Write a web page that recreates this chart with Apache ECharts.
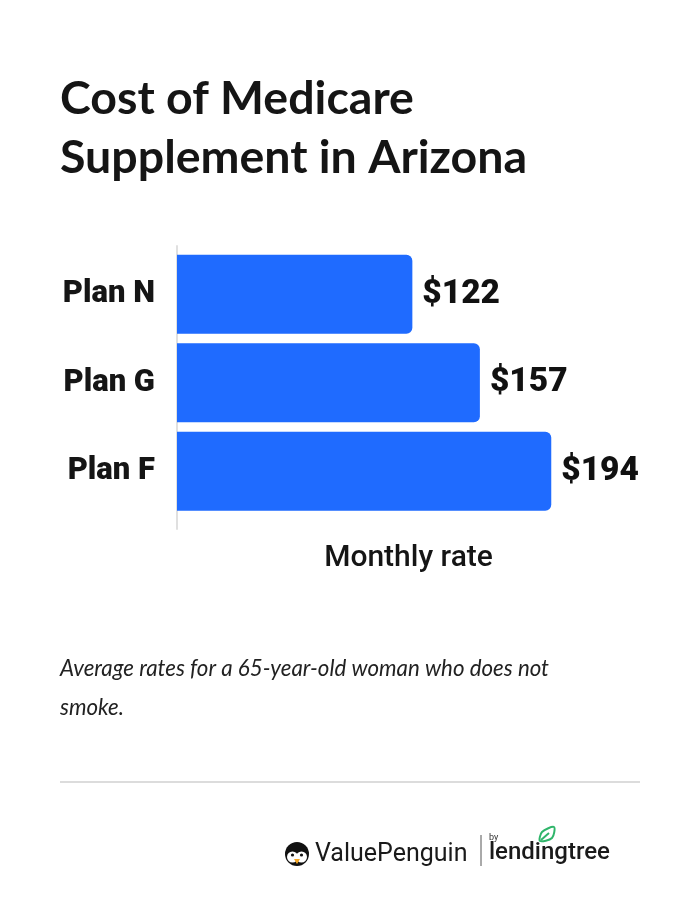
<!DOCTYPE html>
<html>
<head>
<meta charset="utf-8">
<script src="https://cdn.jsdelivr.net/npm/echarts@6/dist/echarts.min.js"></script>
<style>
html,body{margin:0;padding:0;background:#fff;}
#c{width:700px;height:916px;}
</style>
</head>
<body>
<div id="c"></div>
<script>
const categories = ['Plan N', 'Plan G', 'Plan F'];
const monthlyRates = [122, 157, 194];
const titleText = 'Cost of Medicare\nSupplement in Arizona';
const noteText = 'Average rates for a 65-year-old woman who does not\nsmoke.';
const axisName = 'Monthly rate';

const chart = echarts.init(document.getElementById('c'), null, {renderer: 'canvas'});
const option = {
  backgroundColor: '#ffffff',
  animation: false,
  title: [
    {
      text: titleText, left: 55, top: 64,
      textStyle: {fontFamily: 'Lato', fontWeight: 'bold', fontSize: 46.5, color: '#151515', lineHeight: 59}
    },
    {
      text: noteText, left: 55, top: 644,
      textStyle: {fontFamily: 'Lato', fontStyle: 'italic', fontWeight: 'normal', fontSize: 22.3, color: '#222', lineHeight: 39}
    }
  ],
  grid: [
    {left: 177, right: 60, top: 250, height: 265.5, containLabel: false},
    {left: 177, right: 60, top: 246, height: 283, containLabel: false}
  ],
  xAxis: [
    {
      type: 'value', gridIndex: 0, min: 0, max: 240,
      axisLine: {show: false}, axisTick: {show: false}, axisLabel: {show: false}, splitLine: {show: false},
      name: axisName, nameLocation: 'middle', nameGap: 28,
      nameTextStyle: {fontFamily: 'Roboto', fontWeight: 500, fontSize: 30, color: '#151515'}
    },
    {
      type: 'value', gridIndex: 1, min: 0, max: 1, show: false
    }
  ],
  yAxis: [
    {
      type: 'category', gridIndex: 0, data: categories, inverse: true,
      axisLine: {show: false}, axisTick: {show: false}, splitLine: {show: false},
      axisLabel: {margin: 22, fontFamily: 'Roboto', fontWeight: 900, fontSize: 31, color: '#151515'}
    },
    {
      type: 'value', gridIndex: 1, min: 0, max: 1,
      axisLine: {show: true, onZero: false, lineStyle: {color: '#e0e0e0', width: 2}},
      axisTick: {show: false}, axisLabel: {show: false}, splitLine: {show: false}
    }
  ],
  series: [
    {
      type: 'bar', xAxisIndex: 0, yAxisIndex: 0, data: monthlyRates,
      barWidth: 79,
      itemStyle: {color: '#1f6bff', borderRadius: [0, 6, 6, 0]},
      label: {
        show: true, position: 'right', distance: 10,
        formatter: p => '$' + p.value,
        fontFamily: 'Roboto', fontWeight: 900, fontSize: 33.5, color: '#111'
      }
    }
  ],
  graphic: [
    {type: 'line', shape: {x1: 60, y1: 782, x2: 640, y2: 782}, style: {stroke: '#dcdcdc', lineWidth: 2}},
    {type: 'circle', shape: {cx: 297, cy: 854, r: 12}, style: {fill: '#111'}},
    {type: 'circle', shape: {cx: 292.5, cy: 857, r: 5.5}, style: {fill: '#fff'}},
    {type: 'circle', shape: {cx: 301.5, cy: 857, r: 5.5}, style: {fill: '#fff'}},
    {type: 'circle', shape: {cx: 292.5, cy: 855, r: 1.6}, style: {fill: '#111'}},
    {type: 'circle', shape: {cx: 301.5, cy: 855, r: 1.6}, style: {fill: '#111'}},
    {type: 'polygon', shape: {points: [[294, 859], [300, 859], [297, 864]]}, style: {fill: '#f5a623'}},
    {type: 'text', x: 315, y: 855, style: {text: 'ValuePenguin', fontFamily: 'Roboto', fontWeight: 'normal', fontSize: 25, fill: '#1a1a1a', textVerticalAlign: 'middle'}},
    {type: 'line', shape: {x1: 481, y1: 835, x2: 481, y2: 866}, style: {stroke: '#555', lineWidth: 1}},
    {type: 'text', x: 489, y: 838, style: {text: 'by', fontFamily: 'Roboto', fontSize: 9, fill: '#333', textVerticalAlign: 'middle'}},
    {type: 'text', x: 489, y: 853, style: {text: 'lendingtree', fontFamily: 'Roboto', fontWeight: 500, fontSize: 24, fill: '#1a1a1a', textVerticalAlign: 'middle'}},
    {type: 'polygon', shape: {points: [[540, 841], [542, 832], [554, 827], [552, 838]], smooth: 0.3}, style: {fill: 'none', stroke: '#2fb56a', lineWidth: 2}},
    {type: 'line', shape: {x1: 541, y1: 840, x2: 549, y2: 833}, style: {stroke: '#2fb56a', lineWidth: 2}}
  ]
};
chart.setOption(option);
</script>
</body>
</html>
